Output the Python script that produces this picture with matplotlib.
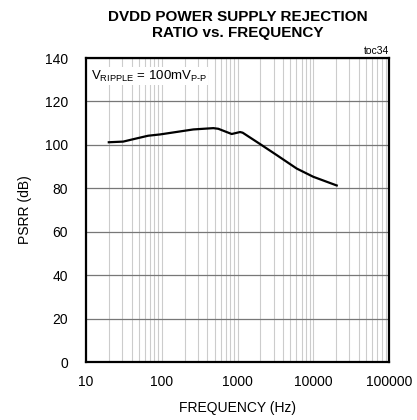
import matplotlib.pyplot as plt
from matplotlib import font_manager
import numpy as np

# pick a narrow sans face if present
names = {f.name for f in font_manager.fontManager.ttflist}
face = 'Liberation Sans Narrow' if 'Liberation Sans Narrow' in names else 'Liberation Sans'
plt.rcParams['font.family'] = [face, 'DejaVu Sans']
plt.rcParams['mathtext.fontset'] = 'custom'
plt.rcParams['mathtext.rm'] = face

# DVDD PSRR measurement
freq_hz = [20, 31, 42, 66, 95, 261, 480, 558, 838, 1080, 1170, 1980, 3290, 6040, 10000, 20400]
psrr_db = [101.2, 101.5, 102.6, 104.2, 104.8, 107.1, 107.7, 107.4, 105.0, 105.9, 105.6,
           100.4, 95.3, 89.1, 85.3, 81.3]

x_ticks = [10, 100, 1000, 10000, 100000]
x_ticklabels = ['10', '100', '1000', '10000', '100000']
y_ticks = [0, 20, 40, 60, 80, 100, 120, 140]

fig = plt.figure(figsize=(4.17, 4.20), dpi=100)
ax = fig.add_axes([86/417, 58/420, 303/417, 304/420])

ax.plot(freq_hz, psrr_db, color='black', linewidth=1.6, zorder=3)

ax.set_xscale('log')
ax.set_xlim(10, 100000)
ax.set_ylim(0, 140)
ax.set_xticks(x_ticks)
ax.set_xticklabels(x_ticklabels)
ax.set_yticks(y_ticks)
ax.tick_params(axis='both', which='both', length=0, labelsize=10, pad=6)
ax.tick_params(axis='x', pad=9)
ax.tick_params(axis='y', pad=13)

ax.grid(True, which='both', axis='x', color='#cccccc', linewidth=0.8)
ax.grid(True, which='major', axis='y', color='#777777', linewidth=0.9)
ax.set_axisbelow(True)
for s in ax.spines.values():
    s.set_linewidth(1.6)
    s.set_color('black')

ax.set_xlabel('FREQUENCY (Hz)', fontsize=10, labelpad=9)
ax.set_ylabel('PSRR (dB)', fontsize=10, labelpad=9)

ax.text(0.015, 0.965, r'V$\mathregular{_{RIPPLE}}$ = 100mV$\mathregular{_{P\text{-}P}}$',
        transform=ax.transAxes, ha='left', va='top', fontsize=9.5,
        bbox=dict(facecolor='white', edgecolor='none', pad=1), zorder=4)
ax.text(1.0, 1.005, 'toc34', transform=ax.transAxes, ha='right', va='bottom', fontsize=7.5)

fig.text(0.571, 0.977, 'DVDD POWER SUPPLY REJECTION\nRATIO vs. FREQUENCY',
         ha='center', va='top', fontsize=11, fontweight='bold', linespacing=1.25)

fig.savefig('out.png', dpi=100)
